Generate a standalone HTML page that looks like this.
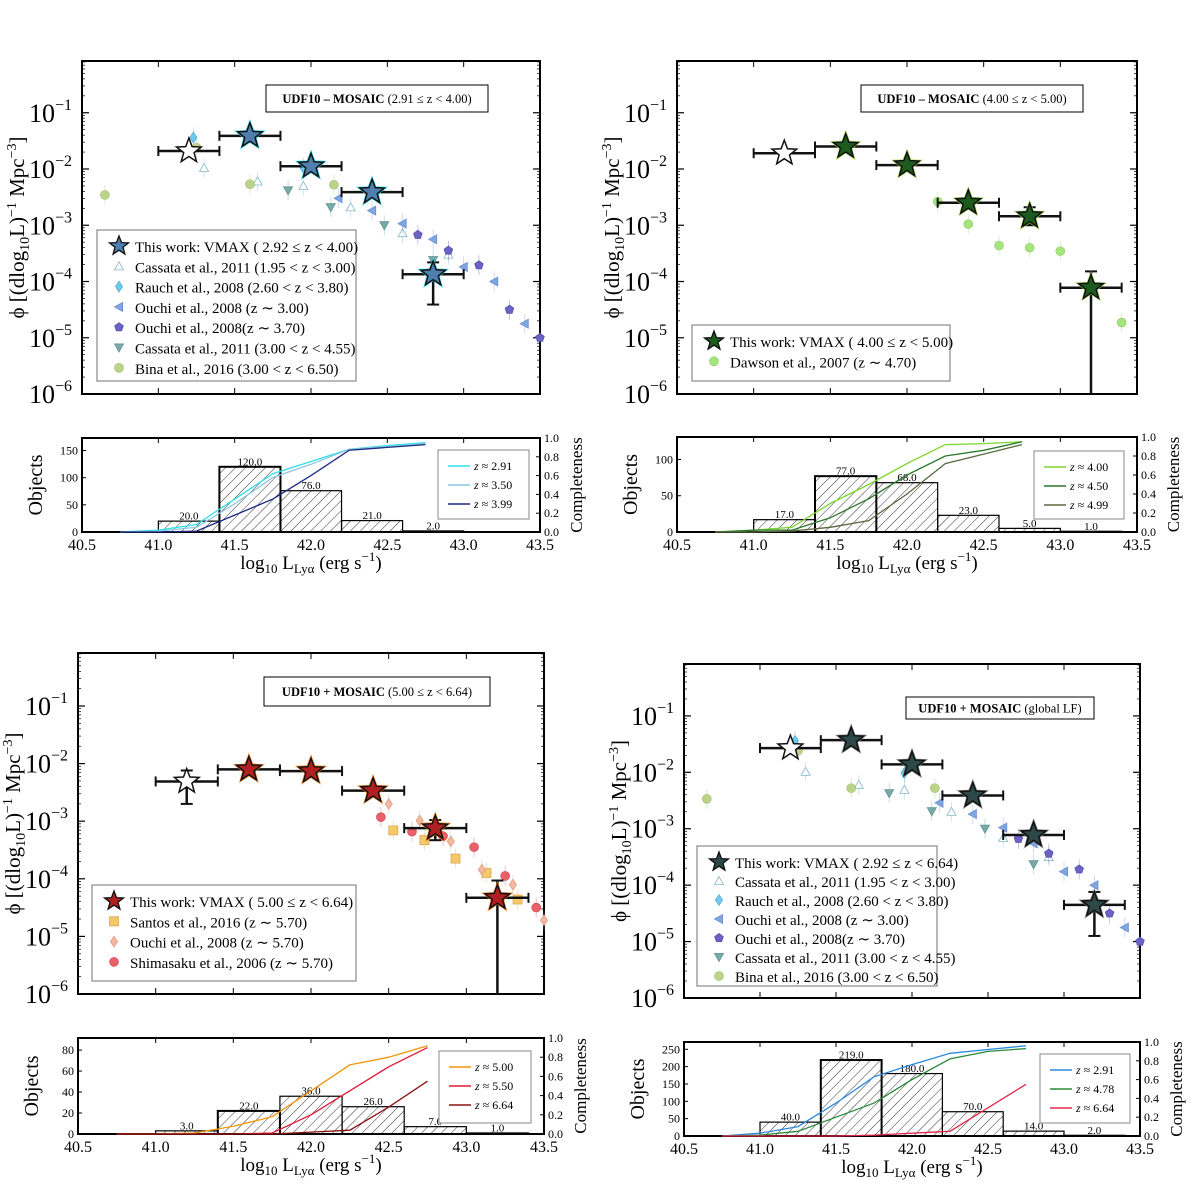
<!DOCTYPE html>
<html><head><meta charset="utf-8">
<style>
body{margin:0;background:#fff;}
svg{display:block;font-family:"Liberation Serif",serif;}
</style></head>
<body>
<svg id="fig" width="1200" height="1196" viewBox="0 0 1200 1196" xmlns="http://www.w3.org/2000/svg">
<defs>
<pattern id="hatch" patternUnits="userSpaceOnUse" width="7" height="7" patternTransform="rotate(45)">
<line x1="0" y1="0" x2="0" y2="7" stroke="#000" stroke-width="0.8"/>
</pattern>
</defs>
</svg>
<script>
// ===== shared bins =====
const starX = [41.2, 41.6, 42.0, 42.4, 42.8, 43.2];
const complX = [40.75, 41.0, 41.25, 41.5, 41.75, 42.0, 42.25, 42.5, 42.75];
const binEdgesStart = [41.0, 41.4, 41.8, 42.2, 42.6, 43.0];
const xTickLabels = ["40.5","41.0","41.5","42.0","42.5","43.0","43.5"];
const yTickExps = [-1,-2,-3,-4,-5,-6];

// ===== Top-left (2.91<=z<4.00) =====
const tlStarLogPhi = [-1.68, -1.41, -1.95, -2.41, -3.87];
const tlStarErrLo = [null, null, null, null, -4.41];
const tlStarErrHi = [null, null, null, null, -3.66];
const tlHist = [20, 120, 76, 21, 2];
const tlCompA = [0, 0.02, 0.08, 0.35, 0.62, 0.75, 0.88, 0.92, 0.95];
const tlCompB = [0, 0.01, 0.05, 0.30, 0.58, 0.72, 0.88, 0.91, 0.94];
const tlCompC = [0, 0, 0.01, 0.18, 0.35, 0.60, 0.87, 0.90, 0.93];
const cassataAX = [41.3, 41.65, 41.95, 42.26, 42.6, 42.9];
const cassataALog = [-1.98, -2.22, -2.30, -2.68, -3.14, -3.52];
const rauchX = [41.23, 41.95];
const rauchLog = [-1.44, -1.98];
const ouchi3X = [42.18, 42.4, 42.6, 42.8, 43.0, 43.2, 43.4];
const ouchi3Log = [-2.52, -2.74, -2.97, -3.25, -3.74, -4.0, -4.75];
const ouchi37X = [42.7, 42.9, 43.1, 43.3, 43.5];
const ouchi37Log = [-3.17, -3.45, -3.71, -4.5, -5.0];
const cassataBX = [41.85, 42.13, 42.48, 42.8];
const cassataBLog = [-2.38, -2.68, -3.0, -3.62];
const binaX = [40.65, 41.25, 41.6, 42.15];
const binaLog = [-2.46, -1.62, -2.27, -2.28];

// ===== Top-right (4.00<=z<5.00) =====
const trStarLogPhi = [-1.72, -1.60, -1.93, -2.60, -2.84, -4.11];
const trStarErrLo = [null, null, null, null, -3.0, -6];
const trStarErrHi = [null, null, null, null, -2.68, -3.82];
const trHist = [17, 77, 68, 23, 5, 1];
const trCompA = [0, 0.02, 0.05, 0.30, 0.50, 0.72, 0.92, 0.93, 0.95];
const trCompB = [0, 0.02, 0.02, 0.15, 0.35, 0.60, 0.80, 0.86, 0.95];
const trCompC = [0, 0, 0.01, 0.05, 0.12, 0.40, 0.72, 0.82, 0.92];
const dawsonX = [42.2, 42.4, 42.6, 42.8, 43.0, 43.4];
const dawsonLog = [-2.58, -2.98, -3.36, -3.40, -3.46, -4.73];

// ===== Bottom-left (5.00<=z<6.64) =====
const blStarLogPhi = [-2.31, -2.10, -2.13, -2.47, -3.12, -4.33];
const blStarErrLo = [-2.70, null, null, null, -3.33, -6];
const blStarErrHi = [-2.12, null, null, null, -2.98, -4.03];
const blHist = [3, 22, 36, 26, 7, 1];
const blCompA = [0, 0, 0.01, 0.08, 0.18, 0.45, 0.72, 0.80, 0.92];
const blCompB = [0, 0, 0, 0, 0.01, 0.20, 0.45, 0.70, 0.90];
const blCompC = [0, 0, 0, 0, 0, 0.02, 0.04, 0.28, 0.55];
const santosX = [42.53, 42.73, 42.93, 43.13, 43.33];
const santosLog = [-3.16, -3.33, -3.65, -3.90, -4.36];
const ouchi57X = [42.5, 42.7, 42.9, 43.1, 43.3, 43.5];
const ouchi57Log = [-2.70, -2.99, -3.35, -3.84, -4.10, -4.72];
const shimaX = [42.45, 42.65, 42.85, 43.05, 43.25, 43.45];
const shimaLog = [-2.93, -3.18, -3.26, -3.45, -3.95, -4.5];

// ===== Bottom-right (global LF) =====
const brStarLogPhi = [-1.57, -1.43, -1.86, -2.41, -3.11, -4.35];
const brStarErrLo = [null, null, null, null, null, -4.9];
const brStarErrHi = [null, null, null, null, null, -4.12];
const brHist = [40, 219, 180, 70, 14, 2];
const brCompA = [0, 0.03, 0.10, 0.35, 0.63, 0.76, 0.88, 0.92, 0.96];
const brCompB = [0, 0.01, 0.05, 0.20, 0.35, 0.60, 0.82, 0.90, 0.93];
const brCompC = [0, 0, 0, 0, 0.01, 0.03, 0.05, 0.30, 0.55];
const brCassataALog = [-1.99, -2.22, -2.31, -2.70, -3.16, -3.50];
const brRauchLog = [-1.44, -2.01];
const brOuchi3Log = [-2.54, -2.74, -2.98, -3.26, -3.76, -4.0, -4.75];
const brOuchi37Log = [-3.18, -3.44, -3.72, -4.5, -5.0];
const brCassataBLog = [-2.37, -2.69, -3.0, -3.63];
const brBinaLog = [-2.47, -1.62, -2.28, -2.28];

const NS = "http://www.w3.org/2000/svg";
const fig = document.getElementById('fig');
function mk(tag, attrs, parent, name, text){
  const e = document.createElementNS(NS, tag);
  for (const k in attrs) e.setAttribute(k, attrs[k]);
  
  
  if (text !== undefined) e.textContent = text;
  (parent || fig).appendChild(e);
  return e;
}
function starPath(cx, cy, R){
  const r = R*0.42; let d = "";
  for (let i=0;i<10;i++){
    const a = -Math.PI/2 + i*Math.PI/5, rr = i%2?r:R;
    d += (i?"L":"M") + (cx+rr*Math.cos(a)).toFixed(1) + "," + (cy+rr*Math.sin(a)).toFixed(1);
  }
  return d+"Z";
}
function marker(g, kind, x, y, fill, stroke, name){
  const s = 4.5;
  let e;
  if (kind==='circle') e = mk('circle',{cx:x,cy:y,r:s,fill:fill,stroke:stroke,'stroke-width':0.6},g,name);
  else {
    let pts;
    if (kind==='tri') pts=[[x,y-s],[x+s,y+s*0.8],[x-s,y+s*0.8]];
    else if (kind==='dtri') pts=[[x,y+s],[x+s,y-s*0.8],[x-s,y-s*0.8]];
    else if (kind==='ltri') pts=[[x-s,y],[x+s*0.8,y-s],[x+s*0.8,y+s]];
    else if (kind==='diam') pts=[[x,y-s*1.2],[x+s*0.8,y],[x,y+s*1.2],[x-s*0.8,y]];
    else if (kind==='square') pts=[[x-s,y-s],[x+s,y-s],[x+s,y+s],[x-s,y+s]];
    else if (kind==='pent'){pts=[];for(let i=0;i<5;i++){const a=-Math.PI/2+i*2*Math.PI/5;pts.push([x+s*Math.cos(a),y+s*Math.sin(a)]);}}
    e = mk('polygon',{points:pts.map(p=>p[0].toFixed(1)+","+p[1].toFixed(1)).join(" "),fill:fill,stroke:stroke,'stroke-width':0.8},g,name);
  }
  return e;
}

function panel(c){
  const g = mk('g',{},fig,c.id+'-panel');
  const X = v => c.x0 + (v-40.5)/3*(c.x1-c.x0);
  const Y = l => c.y1 - (l+6)/5.92*(c.y1-c.y0);
  const HY = v => c.h1 - v/c.hmax*(c.h1-c.h0);
  const CY = v => c.h1 - v*(c.h1-c.h0);
  mk('rect',{x:c.x0,y:c.y0,width:c.x1-c.x0,height:c.y1-c.y0,fill:'none',stroke:'#000','stroke-width':2},g,c.id+'-main-frame');
  yTickExps.forEach(ex=>{
    const y = Y(ex);
    mk('line',{x1:c.x0,x2:c.x0+7,y1:y,y2:y,stroke:'#000','stroke-width':1.2},g,'y-major-tick');
    mk('line',{x1:c.x1,x2:c.x1-7,y1:y,y2:y,stroke:'#000','stroke-width':1.2},g,'y-major-tick');
    const t = mk('text',{x:c.x0-10,y:y+9,'text-anchor':'end','font-size':26},g,'y-tick-label','10');
    mk('tspan',{dy:-12,'font-size':16},t,'y-tick-exponent','−'+(-ex));
    for (let m=2;m<10;m++){
      const ly = ex + Math.log10(m);
      if (ly > -0.08) continue;
      const yy = Y(ly);
      mk('line',{x1:c.x0,x2:c.x0+3,y1:yy,y2:yy,stroke:'#000','stroke-width':0.7},g,'y-minor-tick');
      mk('line',{x1:c.x1,x2:c.x1-3,y1:yy,y2:yy,stroke:'#000','stroke-width':0.7},g,'y-minor-tick');
    }
  });
  xTickLabels.forEach(lb=>{
    const x = X(parseFloat(lb));
    mk('line',{x1:x,x2:x,y1:c.y1,y2:c.y1-6,stroke:'#000','stroke-width':1},g,'x-tick');
    mk('line',{x1:x,x2:x,y1:c.y0,y2:c.y0+6,stroke:'#000','stroke-width':1},g,'x-tick');
    mk('line',{x1:x,x2:x,y1:c.h0,y2:c.h0+5,stroke:'#000','stroke-width':1},g,'hist-x-tick');
    mk('text',{x:x,y:c.h1+18,'text-anchor':'middle','font-size':16},g,'hist-x-tick-label',lb);
  });
  const yt = mk('text',{x:0,y:0,'text-anchor':'middle','font-size':21,transform:`translate(${c.x0-58},${(c.y0+c.y1)/2}) rotate(-90)`},g,'y-axis-title','ϕ  [(dlog');
  mk('tspan',{'font-size':14,dy:5},yt,'y-title-sub','10');
  mk('tspan',{dy:-5},yt,'y-title-mid','L)');
  mk('tspan',{'font-size':14,dy:-8},yt,'y-title-sup','−1');
  mk('tspan',{dy:8},yt,'y-title-mpc',' Mpc');
  mk('tspan',{'font-size':14,dy:-8},yt,'y-title-sup2','−3');
  mk('tspan',{dy:8},yt,'y-title-end',']');
  mk('rect',{x:c.tb[0],y:c.tb[1],width:c.tb[2],height:c.tb[3],fill:'#fff',stroke:'#000','stroke-width':1},g,'panel-title-box');
  const tt = mk('text',{x:c.tb[0]+c.tb[2]/2,y:c.tb[1]+c.tb[3]/2+4.5,'text-anchor':'middle','font-size':12.5},g,'panel-title');
  mk('tspan',{'font-weight':'bold'},tt,'panel-title-field',c.titleA);
  mk('tspan',{},tt,'panel-title-range',c.titleB);

  c.comps.forEach(ds=>{
    ds.x.forEach((xv,i)=>{
      const px=X(xv), py=Y(ds.y[i]);
      if (px>c.x1+5) return;
      mk('line',{x1:px,x2:px,y1:py-10,y2:py+10,stroke:ds.stroke,'stroke-width':0.8,opacity:0.4},g,ds.name+'-errorbar');
      marker(g, ds.kind, px, py, ds.fill, ds.stroke, ds.name+'-point');
    });
  });
  c.stars.forEach((lv,i)=>{
    const px=X(starX[i]), py=Y(lv);
    const open = i===0;
    mk('line',{x1:X(starX[i]-0.2),x2:X(starX[i]+0.2),y1:py,y2:py,stroke:'#111','stroke-width':2.5},g,'star-xerr');
    [-0.2,0.2].forEach(d=>mk('line',{x1:X(starX[i]+d),x2:X(starX[i]+d),y1:py-5,y2:py+5,stroke:'#111','stroke-width':2},g,'star-xerr-cap'));
    if (c.errLo[i]!==null){
      const ylo=Y(c.errLo[i]), yhi=Y(c.errHi[i]);
      mk('line',{x1:px,x2:px,y1:yhi,y2:ylo,stroke:'#111','stroke-width':2.5},g,'star-yerr');
      mk('line',{x1:px-6,x2:px+6,y1:yhi,y2:yhi,stroke:'#111','stroke-width':2},g,'star-yerr-cap');
      if (c.errLo[i]>-6) mk('line',{x1:px-6,x2:px+6,y1:ylo,y2:ylo,stroke:'#111','stroke-width':2},g,'star-yerr-cap');
    }
    if (!open) mk('path',{d:starPath(px,py,17),fill:c.glow,opacity:0.8},g,'star-glow');
    mk('path',{d:starPath(px,py,13),fill:open?'#fff':c.starFill,stroke:'#111','stroke-width':1.5},g,open?'star-open-point':'star-point');
  });
  const L=c.leg;
  mk('rect',{x:L[0],y:L[1],width:L[2],height:L[3],fill:'#fff',stroke:'#888','stroke-width':1.2},g,'legend-box');
  c.legRows.forEach((r,i)=>{
    const ly=L[1]+17+i*L[4];
    if (r.kind==='star') mk('path',{d:starPath(L[0]+22,ly-1,10),fill:c.starFill,stroke:'#111','stroke-width':1.3},g,'legend-star-marker');
    else marker(g,r.kind,L[0]+22,ly-1,r.fill,r.stroke,'legend-marker');
    mk('text',{x:L[0]+38,y:ly+5,'font-size':15},g,'legend-entry',r.label);
  });

  mk('rect',{x:c.x0,y:c.h0,width:c.x1-c.x0,height:c.h1-c.h0,fill:'none',stroke:'#000','stroke-width':2},g,'hist-frame');
  c.hist.forEach((v,i)=>{
    const xa=X(binEdgesStart[i]), xb=X(binEdgesStart[i]+0.4), y=HY(v);
    mk('rect',{x:xa,y:y,width:xb-xa,height:c.h1-y,fill:'url(#hatch)',stroke:'#000','stroke-width':i===1?2:1.2},g,'hist-bar');
    mk('text',{x:(xa+xb)/2,y:y-1.5,'text-anchor':'middle','font-size':11},g,'hist-bar-label',v.toFixed(1));
  });
  c.hticks.forEach(v=>{
    const y=HY(v);
    mk('line',{x1:c.x0,x2:c.x0+4,y1:y,y2:y,stroke:'#000'},g,'hist-y-tick');
    mk('text',{x:c.x0-4,y:y+4,'text-anchor':'end','font-size':12},g,'hist-y-tick-label',String(v));
  });
  [0,0.2,0.4,0.6,0.8,1.0].forEach(v=>{
    const y=CY(v);
    mk('line',{x1:c.x1,x2:c.x1-4,y1:y,y2:y,stroke:'#000'},g,'completeness-tick');
    mk('text',{x:c.x1+4,y:y+4,'font-size':12},g,'completeness-tick-label',v.toFixed(1));
  });
  c.curves.forEach(cv=>{
    const d=complX.map((xv,i)=>(i?"L":"M")+X(xv).toFixed(1)+","+CY(cv.v[i]).toFixed(1)).join("");
    mk('path',{d:d,fill:'none',stroke:cv.color,'stroke-width':1.3},g,'completeness-curve');
  });
  const H=c.hleg;
  mk('rect',{x:H[0],y:H[1],width:H[2],height:H[3],fill:'#fff',stroke:'#888','stroke-width':1},g,'hist-legend-box');
  c.curves.forEach((cv,i)=>{
    const ly=H[1]+16+i*19;
    mk('line',{x1:H[0]+10,x2:H[0]+32,y1:ly,y2:ly,stroke:cv.color,'stroke-width':1.5},g,'hist-legend-line');
    const t=mk('text',{x:H[0]+36,y:ly+4,'font-size':12},g,'hist-legend-entry');
    mk('tspan',{'font-style':'italic'},t,'z-symbol','z');
    mk('tspan',{},t,'z-value',' ≈ '+cv.label);
  });
  mk('text',{x:0,y:0,'text-anchor':'middle','font-size':20,transform:`translate(${c.x0-40},${(c.h0+c.h1)/2}) rotate(-90)`},g,'hist-y-axis-title','Objects');
  mk('text',{x:0,y:0,'text-anchor':'middle','font-size':17,transform:`translate(${c.x1+42},${(c.h0+c.h1)/2}) rotate(-90)`},g,'completeness-axis-title','Completeness');
  const xt=mk('text',{x:(c.x0+c.x1)/2,y:c.h1+37,'text-anchor':'middle','font-size':19},g,'x-axis-title','log');
  mk('tspan',{'font-size':13,dy:4},xt,'x-title-sub','10');
  mk('tspan',{dy:-4},xt,'x-title-L',' L');
  mk('tspan',{'font-size':13,dy:4},xt,'x-title-sub2','Lyα');
  mk('tspan',{dy:-4},xt,'x-title-unit',' (erg s');
  mk('tspan',{'font-size':13,dy:-8},xt,'x-title-sup','−1');
  mk('tspan',{dy:8},xt,'x-title-end',')');
}

const C = {
  cassA:{kind:'tri',fill:'#fff',stroke:'#80b8c8',label:'Cassata et al., 2011 (1.95 < z < 3.00)'},
  rauch:{kind:'diam',fill:'#6fcbec',stroke:'#5ab0d8',label:'Rauch et al., 2008 (2.60 < z < 3.80)'},
  ou3:{kind:'ltri',fill:'#7fa6e0',stroke:'#6a90d0',label:'Ouchi et al., 2008 (z ∼ 3.00)'},
  ou37:{kind:'pent',fill:'#6b62c4',stroke:'#5a52b0',label:'Ouchi et al., 2008(z ∼ 3.70)'},
  cassB:{kind:'dtri',fill:'#78aaa8',stroke:'#5f9492',label:'Cassata et al., 2011 (3.00 < z < 4.55)'},
  bina:{kind:'circle',fill:'#bcd48a',stroke:'#a0bc70',label:'Bina et al., 2016 (3.00 < z < 6.50)'}
};
function ds(base,x,y,name){return Object.assign({},base,{x:x,y:y,name:name});}

panel({id:'top-left',x0:82,x1:540,y0:61,y1:394,h0:438,h1:532,hmax:173,hticks:[0,50,100,150],
  tb:[266,85,222,27],titleA:'UDF10 – MOSAIC',titleB:' (2.91 ≤ z < 4.00)',
  stars:tlStarLogPhi,errLo:tlStarErrLo,errHi:tlStarErrHi,starFill:'#4f7fae',glow:'#22e0f0',
  comps:[ds(C.cassA,cassataAX,cassataALog,'cassata-2011a'),ds(C.rauch,rauchX,rauchLog,'rauch-2008'),ds(C.ou3,ouchi3X,ouchi3Log,'ouchi-2008-z3'),ds(C.ou37,ouchi37X,ouchi37Log,'ouchi-2008-z37'),ds(C.cassB,cassataBX,cassataBLog,'cassata-2011b'),ds(C.bina,binaX,binaLog,'bina-2016')],
  leg:[97,230,259,151,20.3],
  legRows:[{kind:'star',label:'This work: VMAX ( 2.92 ≤ z < 4.00)'},C.cassA,C.rauch,C.ou3,C.ou37,C.cassB,C.bina],
  hist:tlHist,curves:[{v:tlCompA,color:'#2ee0e8',label:'2.91'},{v:tlCompB,color:'#8cc8e0',label:'3.50'},{v:tlCompC,color:'#1a2a80',label:'3.99'}],
  hleg:[438,450,91,69]});

panel({id:'top-right',x0:677,x1:1137,y0:61,y1:394,h0:437,h1:532,hmax:131,hticks:[0,50,100],
  tb:[861,85,222,27],titleA:'UDF10 – MOSAIC',titleB:' (4.00 ≤ z < 5.00)',
  stars:trStarLogPhi,errLo:trStarErrLo,errHi:trStarErrHi,starFill:'#1d5a1d',glow:'#a8e050',
  comps:[ds({kind:'circle',fill:'#a6e47e',stroke:'#90cc6a'},dawsonX,dawsonLog,'dawson-2007')],
  leg:[692,325,258,56,20.3],
  legRows:[{kind:'star',label:'This work: VMAX ( 4.00 ≤ z < 5.00)'},{kind:'circle',fill:'#a6e47e',stroke:'#90cc6a',label:'Dawson et al., 2007 (z ∼ 4.70)'}],
  hist:trHist,curves:[{v:trCompA,color:'#7ad62a',label:'4.00'},{v:trCompB,color:'#2a7a2a',label:'4.50'},{v:trCompC,color:'#5a6a40',label:'4.99'}],
  hleg:[1034,451,90,68]});

panel({id:'bottom-left',x0:78,x1:544,y0:653,y1:994,h0:1038,h1:1134,hmax:91.5,hticks:[0,20,40,60,80],
  tb:[264,677,226,29],titleA:'UDF10 + MOSAIC',titleB:' (5.00 ≤ z < 6.64)',
  stars:blStarLogPhi,errLo:blStarErrLo,errHi:blStarErrHi,starFill:'#b02020',glow:'#ff7a10',
  comps:[ds({kind:'square',fill:'#f5c86a',stroke:'#d8a850'},santosX,santosLog,'santos-2016'),ds({kind:'diam',fill:'#f2b8a0',stroke:'#dca088'},ouchi57X,ouchi57Log,'ouchi-2008-z57'),ds({kind:'circle',fill:'#e8606a',stroke:'#d04a55'},shimaX,shimaLog,'shimasaku-2006')],
  leg:[92,885,264,96,20.3],
  legRows:[{kind:'star',label:'This work: VMAX ( 5.00 ≤ z < 6.64)'},{kind:'square',fill:'#f5c86a',stroke:'#d8a850',label:'Santos et al., 2016 (z ∼ 5.70)'},{kind:'diam',fill:'#f2b8a0',stroke:'#dca088',label:'Ouchi et al., 2008 (z ∼ 5.70)'},{kind:'circle',fill:'#e8606a',stroke:'#d04a55',label:'Shimasaku et al., 2006 (z ∼ 5.70)'}],
  hist:blHist,curves:[{v:blCompA,color:'#f0960a',label:'5.00'},{v:blCompB,color:'#e01838',label:'5.50'},{v:blCompC,color:'#8a1010',label:'6.64'}],
  hleg:[439,1051,92,72]});

panel({id:'bottom-right',x0:684,x1:1140,y0:664,y1:998,h0:1042,h1:1136,hmax:271,hticks:[0,50,100,150,200,250],
  tb:[906,697,188,22],titleA:'UDF10 + MOSAIC',titleB:' (global LF)',
  stars:brStarLogPhi,errLo:brStarErrLo,errHi:brStarErrHi,starFill:'#2c4848',glow:'#777',
  comps:[ds(C.cassA,cassataAX,brCassataALog,'cassata-2011a'),ds(C.rauch,rauchX,brRauchLog,'rauch-2008'),ds(C.ou3,ouchi3X,brOuchi3Log,'ouchi-2008-z3'),ds(C.ou37,ouchi37X,brOuchi37Log,'ouchi-2008-z37'),ds(C.cassB,cassataBX,brCassataBLog,'cassata-2011b'),ds(C.bina,binaX,brBinaLog,'bina-2016')],
  leg:[697,846,240,140,19],
  legRows:[{kind:'star',label:'This work: VMAX ( 2.92 ≤ z < 6.64)'},C.cassA,C.rauch,C.ou3,C.ou37,C.cassB,C.bina],
  hist:brHist,curves:[{v:brCompA,color:'#2a8ae0',label:'2.91'},{v:brCompB,color:'#2a8a3a',label:'4.78'},{v:brCompC,color:'#e02848',label:'6.64'}],
  hleg:[1040,1054,90,69]});
</script>
</body></html>
